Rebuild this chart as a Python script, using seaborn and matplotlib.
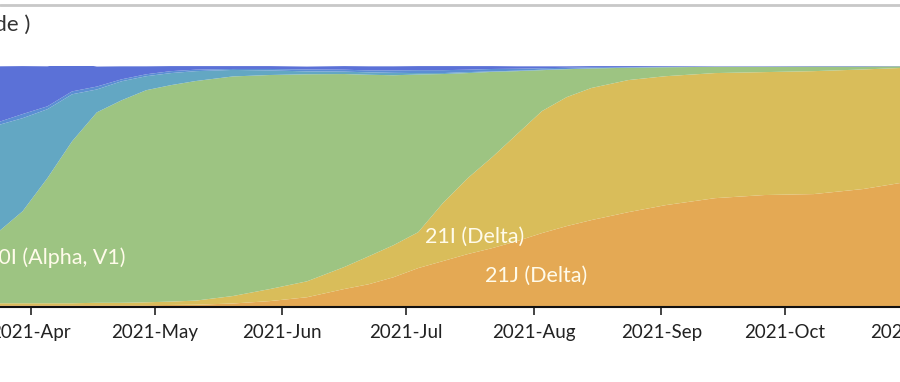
import pandas as pd
import numpy as np
import matplotlib
matplotlib.use("Agg")
import matplotlib.pyplot as plt
import matplotlib.dates as mdates
import seaborn as sns

# frequencies (%), bottom layer first
dates = ["2021-03-24", "2021-03-30", "2021-04-05", "2021-04-11", "2021-04-17",
         "2021-04-23", "2021-04-29", "2021-05-05", "2021-05-11", "2021-05-20",
         "2021-05-29", "2021-06-07", "2021-06-16", "2021-06-22", "2021-06-28",
         "2021-07-04", "2021-07-10", "2021-07-16", "2021-07-22", "2021-07-28",
         "2021-08-03", "2021-08-09", "2021-08-15", "2021-08-24", "2021-09-02",
         "2021-09-14", "2021-09-26", "2021-10-08", "2021-10-20", "2021-10-29"]

delta_21j = [0.8, 0.8, 0.8, 0.8, 0.8, 0.8, 0.8, 0.9, 1.0, 1.5,
             2.5, 4.1, 7.5, 9.5, 12.4, 16.2, 19.1, 22.0, 24.5, 27.4,
             30.7, 33.6, 36.1, 39.4, 42.3, 45.2, 46.5, 46.9, 49.0, 51.5]
delta_21i = [0.8, 0.8, 0.8, 0.8, 1.0, 1.0, 1.2, 1.4, 1.7, 3.1,
             5.0, 6.6, 9.1, 11.6, 13.3, 14.9, 24.1, 31.5, 37.8, 44.4,
             50.6, 53.5, 54.8, 54.8, 53.5, 51.9, 51.0, 51.0, 49.6, 47.7]
alpha_20i = [29.5, 38.2, 51.9, 67.2, 79.0, 84.0, 88.0, 89.8, 91.1, 91.1,
             88.8, 85.9, 80.1, 75.3, 70.5, 65.4, 53.5, 43.6, 35.3, 26.1,
             17.0, 11.6, 8.1, 5.1, 3.7, 2.6, 2.2, 1.9, 1.2, 0.7]
clade_teal = [44.4, 38.6, 28.6, 19.5, 9.5, 7.9, 5.8, 5.0, 4.1, 2.7,
              1.9, 1.2, 1.0, 1.0, 1.0, 0.6, 0.4, 0.4, 0.2, 0.2,
              0.2, 0.1, 0.1, 0.1, 0.1, 0.0, 0.0, 0.0, 0.0, 0.0]
clade_mid = [1.2, 1.7, 1.2, 1.2, 1.2, 0.8, 0.8, 0.8, 0.6, 0.4,
             0.6, 0.8, 0.8, 0.8, 1.0, 1.2, 1.2, 1.0, 1.0, 0.8,
             0.6, 0.5, 0.4, 0.2, 0.1, 0.0, 0.0, 0.0, 0.0, 0.0]
clade_blue = [23.2, 19.9, 16.6, 12.0, 8.3, 5.4, 3.3, 2.1, 1.5, 1.2,
              1.2, 1.2, 1.5, 1.7, 1.7, 1.7, 1.7, 1.5, 1.2, 1.0,
              0.8, 0.6, 0.5, 0.4, 0.3, 0.2, 0.2, 0.2, 0.2, 0.1]

colors = ["#E4A954", "#D9BD5A", "#9DC482", "#63A7C3", "#5B8ED3", "#5B71D7"]

df = pd.DataFrame({"date": pd.to_datetime(dates),
                   "21J": delta_21j, "21I": delta_21i, "20I": alpha_20i,
                   "teal": clade_teal, "mid": clade_mid, "blue": clade_blue})

sns.set_style("white")
plt.rcParams["font.family"] = ["Lato", "DejaVu Sans"]

fig = plt.figure(figsize=(9, 3.82), dpi=100)
ax = fig.add_axes([0, 0.196, 1, 0.631])

ax.stackplot(df["date"], df["21J"], df["21I"], df["20I"], df["teal"], df["mid"], df["blue"],
             colors=colors, linewidth=0)

ax.set_xlim(mdates.date2num(pd.Timestamp("2021-03-24 12:00")),
            mdates.date2num(pd.Timestamp("2021-10-28 22:00")))
ax.set_ylim(0, 100)

ax.xaxis.set_major_locator(mdates.MonthLocator())
ax.xaxis.set_major_formatter(mdates.DateFormatter("%Y-%b"))
ax.tick_params(axis="x", length=6, width=1.2, color="#222", labelsize=13.5,
               labelcolor="#222", pad=6, bottom=True)
ax.set_yticks([])
sns.despine(ax=ax, left=True, top=True, right=True)
ax.spines["bottom"].set_linewidth(1.5)
ax.spines["bottom"].set_color("#111")

# tick label for November, its tick falls just past the edge
ax.text(mdates.date2num(pd.Timestamp("2021-11-01")), -6.9, "2021-Nov", ha="center",
        va="top", fontsize=13.5, color="#222")

label_kw = dict(color="#fffbea", fontsize=15.5, va="center")
ax.text(mdates.date2num(pd.Timestamp("2021-03-21")), 20.3, "20I (Alpha, V1)", ha="left", **label_kw)
ax.text(mdates.date2num(pd.Timestamp("2021-07-05 16:00")), 29, "21I (Delta)", ha="left", **label_kw)
ax.text(mdates.date2num(pd.Timestamp("2021-07-20 05:00")), 12.9, "21J (Delta)", ha="left", **label_kw)

fig.text(30 / 900, 1 - 25 / 382, "Frequencies (colored by Clade )", ha="right", va="center",
         fontsize=16, color="#333")
fig.add_artist(plt.Line2D([0, 1], [1 - 5 / 382, 1 - 5 / 382], color="#c8c8c8", lw=2))

fig.savefig("out.png", dpi=100)
